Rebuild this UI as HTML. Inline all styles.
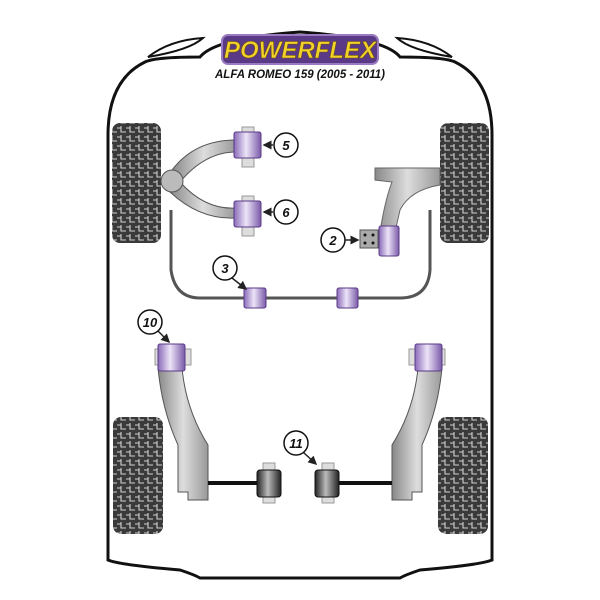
<!DOCTYPE html>
<html><head><style>body{margin:0;background:#fff}svg{display:block}</style></head><body>
<svg width="600" height="600" viewBox="0 0 600 600" xmlns="http://www.w3.org/2000/svg">
<defs>
<pattern id="tr" width="9" height="9" patternUnits="userSpaceOnUse">
<rect width="9" height="9" fill="#3a3a3a"/>
<path d="M0 2h4v4h5" stroke="#d0d0d0" stroke-width="1.1" fill="none"/>
<path d="M4 0v2" stroke="#d0d0d0" stroke-width="1.1"/>
</pattern>
<linearGradient id="pg" x1="0" x2="1"><stop offset="0" stop-color="#8a6ab8"/><stop offset=".45" stop-color="#ece4f8"/><stop offset="1" stop-color="#7a5aa8"/></linearGradient>
<linearGradient id="bg" x1="0" x2="1"><stop offset="0" stop-color="#222"/><stop offset=".45" stop-color="#bbb"/><stop offset="1" stop-color="#222"/></linearGradient>
<linearGradient id="gg" x1="0" x2="1"><stop offset="0" stop-color="#888"/><stop offset=".5" stop-color="#ddd"/><stop offset="1" stop-color="#999"/></linearGradient>
<marker id="ar" markerWidth="6" markerHeight="6" refX="5" refY="3" orient="auto"><path d="M0 0L6 3L0 6z" fill="#222"/></marker>
</defs>
<path d="M108 560 L108 135 Q108 80 145 62 Q155 57 200 57 Q215 38 300 32 Q385 38 400 57 Q445 57 455 62 Q492 80 492 135 L492 560 Q480 565 420 570 Q405 575 400 578 L200 578 Q195 575 180 570 Q120 565 108 560 Z" fill="#fff" stroke="#111" stroke-width="3"/>
<path d="M148 57 Q170 40 203 38 Q190 50 148 57Z" fill="#fff" stroke="#111" stroke-width="2"/>
<path d="M452 57 Q430 40 397 38 Q410 50 452 57Z" fill="#fff" stroke="#111" stroke-width="2"/>
<rect x="222" y="35" width="156" height="29" rx="6" fill="#5a3a86" stroke="#9a7ac0" stroke-width="2"/>
<text x="300" y="58" text-anchor="middle" font-family="Liberation Sans,sans-serif" font-weight="bold" font-style="italic" font-size="24" fill="#f2d22a" stroke="#6a5010" stroke-width=".6">POWERFLEX</text>
<text x="300" y="78" text-anchor="middle" font-family="Liberation Sans,sans-serif" font-weight="bold" font-style="italic" font-size="11.5" fill="#111">ALFA ROMEO 159 (2005 - 2011)</text>
<rect x="112" y="123" width="49" height="120" rx="8" fill="url(#tr)"/>
<rect x="440" y="123" width="49" height="120" rx="8" fill="url(#tr)"/>
<rect x="113" y="417" width="50" height="117" rx="8" fill="url(#tr)"/>
<rect x="438" y="417" width="50" height="117" rx="8" fill="url(#tr)"/>
<path d="M171 210 L171 270 Q175 298 200 298 L400 298 Q428 298 430 270 L430 210" fill="none" stroke="#555" stroke-width="3"/>
<path d="M172 170 Q195 140 236 140 L236 152 Q205 152 180 182 Z" fill="url(#gg)" stroke="#555"/>
<path d="M180 182 Q205 210 236 208 L236 218 Q200 220 170 192 Z" fill="url(#gg)" stroke="#555"/>
<circle cx="172" cy="181" r="11" fill="#bbb" stroke="#555"/>
<rect x="242" y="127" width="12" height="40" fill="#ddd" stroke="#999"/>
<rect x="234" y="132" width="27" height="26" rx="2" fill="url(#pg)" stroke="#5a3a86"/>
<rect x="242" y="196" width="12" height="40" fill="#ddd" stroke="#999"/>
<rect x="234" y="201" width="27" height="26" rx="2" fill="url(#pg)" stroke="#5a3a86"/>
<path d="M375 168 L440 168 L440 185 Q410 190 400 210 L395 232 L380 232 Q385 200 392 182 L375 180 Z" fill="url(#gg)" stroke="#666"/>
<rect x="360" y="230" width="18" height="18" fill="#aaa" stroke="#555"/>
<circle cx="365" cy="235" r="1.5" fill="#111"/><circle cx="373" cy="235" r="1.5" fill="#111"/><circle cx="365" cy="243" r="1.5" fill="#111"/><circle cx="373" cy="243" r="1.5" fill="#111"/>
<rect x="379" y="226" width="20" height="30" rx="2" fill="url(#pg)" stroke="#5a3a86"/>
<rect x="244" y="288" width="22" height="20" rx="2" fill="url(#pg)" stroke="#5a3a86"/>
<rect x="337" y="288" width="21" height="20" rx="2" fill="url(#pg)" stroke="#5a3a86"/>
<path d="M158 368 L182 368 Q186 410 208 445 L208 500 L188 500 L188 492 L178 492 L178 445 Q162 410 158 368Z" fill="url(#gg)" stroke="#555"/>
<path d="M442 368 L418 368 Q414 410 392 445 L392 500 L412 500 L412 492 L422 492 L422 445 Q438 410 442 368Z" fill="url(#gg)" stroke="#555"/>
<rect x="155" y="349" width="36" height="16" fill="#ddd" stroke="#999"/>
<rect x="158" y="344" width="27" height="27" rx="2" fill="url(#pg)" stroke="#5a3a86"/>
<rect x="409" y="349" width="36" height="16" fill="#ddd" stroke="#999"/>
<rect x="415" y="344" width="27" height="27" rx="2" fill="url(#pg)" stroke="#5a3a86"/>
<line x1="208" y1="483" x2="262" y2="483" stroke="#111" stroke-width="4"/>
<line x1="337" y1="483" x2="392" y2="483" stroke="#111" stroke-width="4"/>
<rect x="263" y="463" width="12" height="40" fill="#ddd" stroke="#999"/>
<rect x="257" y="470" width="24" height="27" rx="3" fill="url(#bg)" stroke="#111"/>
<rect x="322" y="463" width="12" height="40" fill="#ddd" stroke="#999"/>
<rect x="315" y="470" width="24" height="27" rx="3" fill="url(#bg)" stroke="#111"/>
<g font-family="Liberation Sans,sans-serif" font-weight="bold" font-style="italic" font-size="13" text-anchor="middle" fill="#111" stroke-width="1.5">
<line x1="273" y1="145" x2="264" y2="145" stroke="#222" stroke-width="1.5" marker-end="url(#ar)"/>
<circle cx="286" cy="145" r="12" fill="#fff" stroke="#111"/><text x="286" y="150">5</text>
<line x1="273" y1="212" x2="264" y2="212" stroke="#222" stroke-width="1.5" marker-end="url(#ar)"/>
<circle cx="286" cy="212" r="12" fill="#fff" stroke="#111"/><text x="286" y="217">6</text>
<line x1="345" y1="240" x2="358" y2="240" stroke="#222" stroke-width="1.5" marker-end="url(#ar)"/>
<circle cx="333" cy="240" r="12" fill="#fff" stroke="#111"/><text x="333" y="245">2</text>
<line x1="232" y1="278" x2="246" y2="289" stroke="#222" stroke-width="1.5" marker-end="url(#ar)"/>
<circle cx="225" cy="268" r="12" fill="#fff" stroke="#111"/><text x="225" y="273">3</text>
<line x1="157" y1="330" x2="169" y2="342" stroke="#222" stroke-width="1.5" marker-end="url(#ar)"/>
<circle cx="150" cy="322" r="12" fill="#fff" stroke="#111"/><text x="150" y="327">10</text>
<line x1="303" y1="452" x2="316" y2="464" stroke="#222" stroke-width="1.5" marker-end="url(#ar)"/>
<circle cx="296" cy="443" r="12" fill="#fff" stroke="#111"/><text x="296" y="448">11</text>
</g>
</svg>
</body></html>
